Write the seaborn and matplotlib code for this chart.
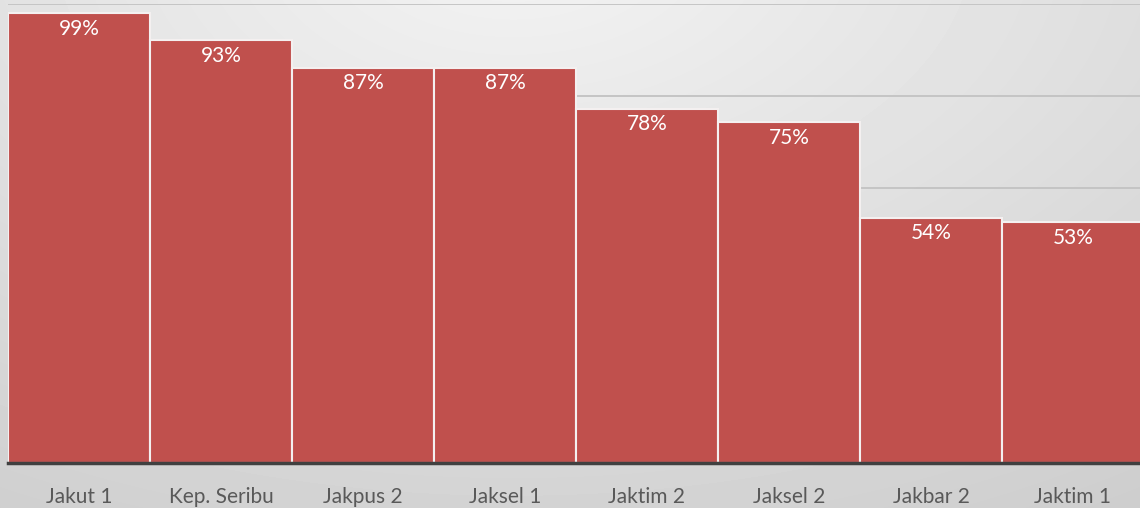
import numpy as np
import pandas as pd
import matplotlib
matplotlib.use("Agg")
import matplotlib.pyplot as plt
import seaborn as sns

# data
regions = ["Jakut 1", "Kep. Seribu", "Jakpus 2", "Jaksel 1",
           "Jaktim 2", "Jaksel 2", "Jakbar 2", "Jaktim 1"]
coverage = [0.99, 0.93, 0.87, 0.87, 0.78, 0.75, 0.54, 0.53]

df = pd.DataFrame({"region": regions, "coverage": coverage})

sns.set_theme(style="white")
plt.rcParams["font.family"] = ["Lato", "DejaVu Sans"]

W, H = 1140, 508
fig = plt.figure(figsize=(W / 100, H / 100), dpi=100)

# soft radial gray background, lighter near the top centre
bg = fig.add_axes([0, 0, 1, 1], zorder=-1)
yy, xx = np.mgrid[0:H, 0:W]
r = np.sqrt(((xx - W * 0.45) / W) ** 2 + ((yy + 60) / H * 0.75) ** 2)
shade = np.clip(0.955 - 0.15 * r, 0.8, 0.96)
bg.imshow(shade, cmap="gray", vmin=0, vmax=1, aspect="auto")
bg.axis("off")

ax = fig.add_axes([8 / W, 45 / H, 1136 / W, 459 / H])
ax.patch.set_alpha(0)

sns.barplot(data=df, x="region", y="coverage", color="#C0504D",
            saturation=1, width=1.0, edgecolor="#f4f0f0", linewidth=1.5, ax=ax)

ax.set_xlim(-0.5, len(regions) - 0.5)
ax.set_ylim(0, 1.01)
ax.set_yticks(np.linspace(0, 1.01, 6)[1:])
ax.yaxis.grid(True, color="#c2c2c2", linewidth=1.3)
ax.set_axisbelow(True)
ax.tick_params(axis="y", left=False, labelleft=False)
ax.tick_params(axis="x", length=0, pad=17, labelsize=15, labelcolor="#595959")
ax.set_xlabel("")
ax.set_ylabel("")

for side in ["top", "left", "right"]:
    ax.spines[side].set_visible(False)
ax.spines["bottom"].set_color("#404040")
ax.spines["bottom"].set_linewidth(2.5)

for i, v in enumerate(coverage):
    ax.annotate(f"{v:.0%}", xy=(i, v), xytext=(0, -4), textcoords="offset points",
                ha="center", va="top", color="white", fontsize=15)

fig.savefig("out.png", dpi=100)
